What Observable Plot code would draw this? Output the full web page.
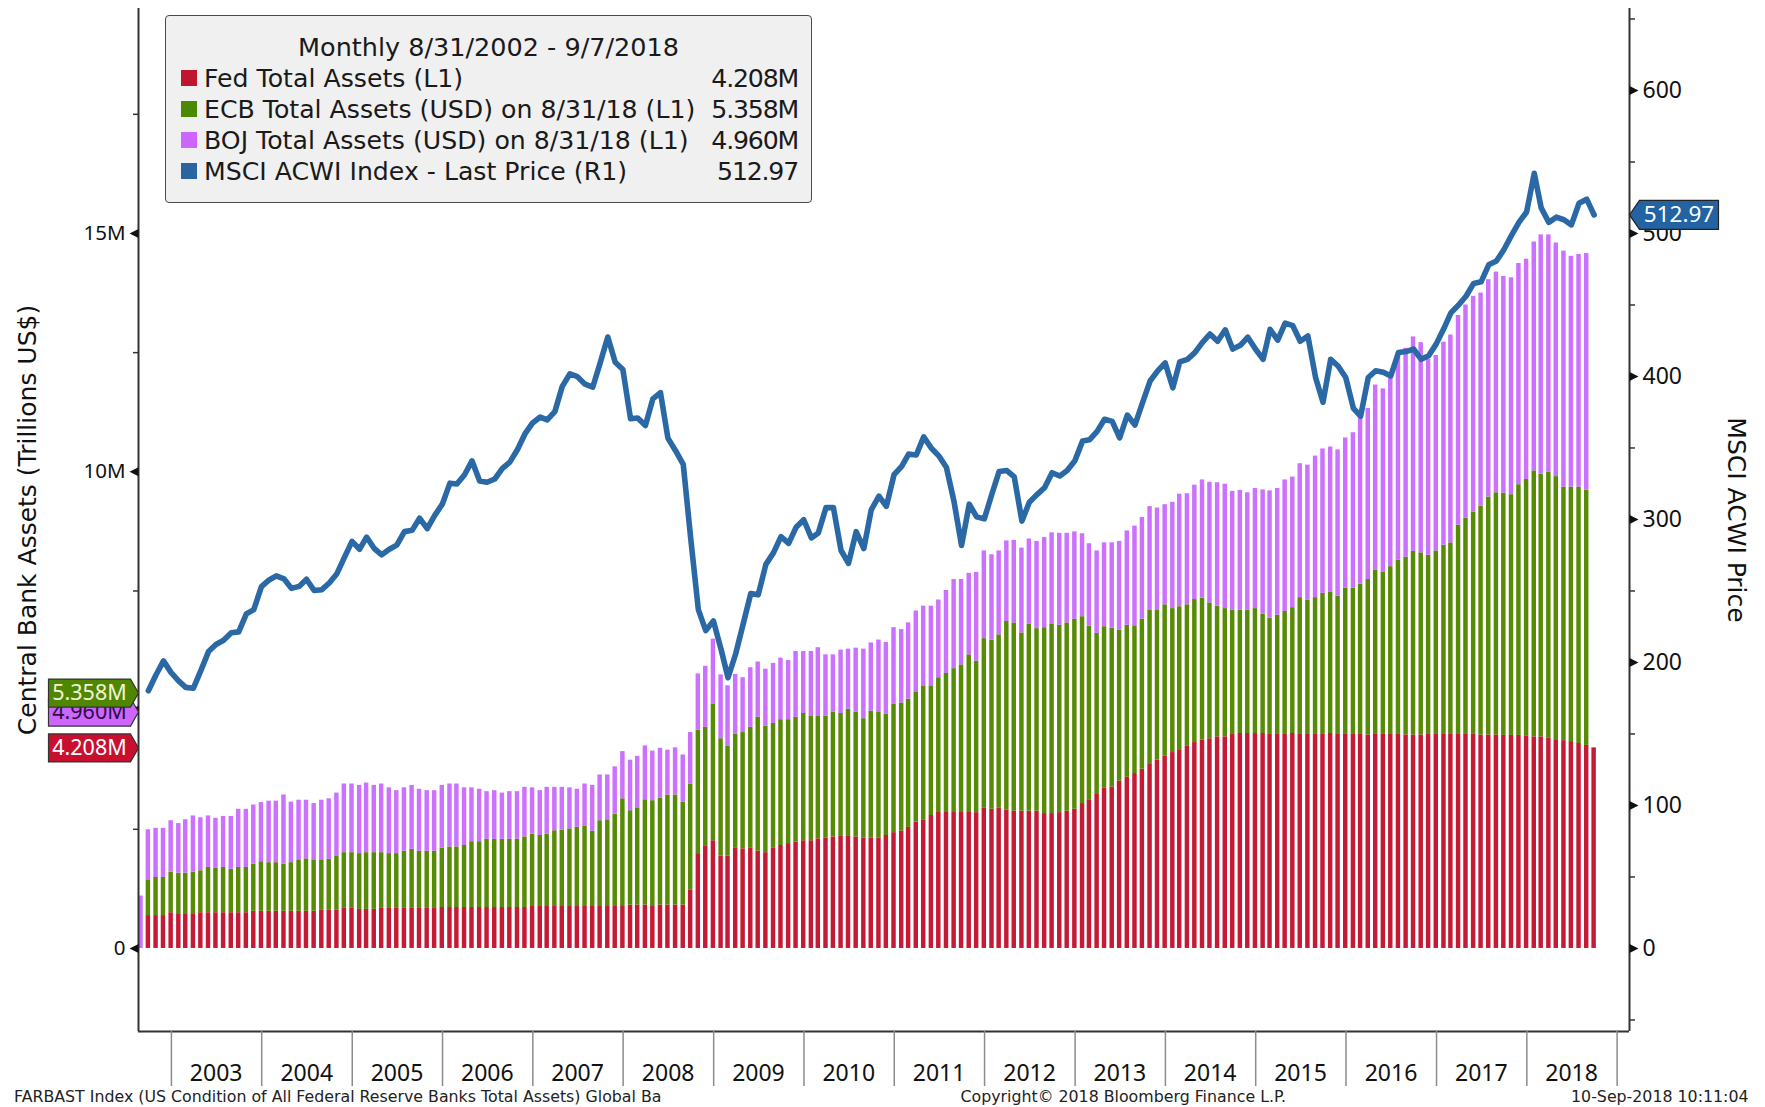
<!DOCTYPE html>
<html>
<head>
<meta charset="utf-8">
<script src="https://cdn.jsdelivr.net/npm/d3@7"></script>
<script src="https://cdn.jsdelivr.net/npm/@observablehq/plot@0.6"></script>
<style>
  html, body { margin: 0; padding: 0; background: #fff; overflow: hidden; }
  #chart { position: relative; width: 1765px; height: 1107px; overflow: hidden; }
  #legend { position: absolute; left: 165px; top: 15px; width: 647px; height: 188px; box-sizing: border-box;
    background: #f0f0f0; border: 1.5px solid #4a4a4a; border-radius: 4px;
    font-family: "DejaVu Sans", sans-serif; font-size: 25.2px; color: #1a1a1a; }
  #legend .ttl { position: absolute; left: 0; right: 0; top: 16px; text-align: center; height: 30px; line-height: 30px; white-space: nowrap; font-size: 25.5px; }
  #legend .row { position: absolute; left: 15px; right: 13px; height: 30px; line-height: 30px; white-space: nowrap; }
  #legend .sw { position: absolute; left: 0; top: 6px; width: 16px; height: 16px; }
  #legend .lbl { position: absolute; left: 23px; top: 0; }
  #legend .val { position: absolute; right: 0; top: 0; letter-spacing: -1.2px; }
</style>
</head>
<body>
<div id="chart"></div>
<script>
// ---------------- DATA (trillions of US$, shown as "M"; one value per month Aug-2002 .. Sep-2018) ----------------
const fed = [
  null, 0.69, 0.69, 0.69, 0.75,                                             // 2002 Aug-Dec
  0.73, 0.73, 0.73, 0.75, 0.75, 0.75, 0.75, 0.75, 0.75, 0.75, 0.78, 0.78,   // 2003
  0.78, 0.78, 0.78, 0.78, 0.78, 0.78, 0.78, 0.80, 0.80, 0.81, 0.84, 0.84,   // 2004
  0.82, 0.82, 0.82, 0.84, 0.84, 0.84, 0.84, 0.84, 0.84, 0.84, 0.84, 0.86,   // 2005
  0.86, 0.86, 0.86, 0.86, 0.86, 0.86, 0.86, 0.86, 0.86, 0.86, 0.86, 0.88,   // 2006
  0.88, 0.88, 0.88, 0.88, 0.88, 0.88, 0.88, 0.88, 0.88, 0.88, 0.88, 0.88,   // 2007
  0.91, 0.91, 0.91, 0.88, 0.91, 0.91, 0.91, 0.91, 1.22, 1.99, 2.14, 2.26,   // 2008
  1.94, 1.94, 2.10, 2.09, 2.10, 2.04, 2.01, 2.10, 2.16, 2.20, 2.23, 2.26,   // 2009
  2.26, 2.30, 2.32, 2.34, 2.35, 2.35, 2.34, 2.32, 2.32, 2.32, 2.37, 2.43,   // 2010
  2.46, 2.54, 2.65, 2.70, 2.79, 2.87, 2.87, 2.87, 2.87, 2.87, 2.85, 2.94,   // 2011
  2.92, 2.94, 2.90, 2.88, 2.88, 2.88, 2.88, 2.83, 2.83, 2.85, 2.88, 2.92,   // 2012
  3.04, 3.12, 3.23, 3.37, 3.39, 3.51, 3.59, 3.67, 3.76, 3.86, 3.95, 4.04,   // 2013
  4.11, 4.17, 4.24, 4.32, 4.37, 4.40, 4.44, 4.44, 4.49, 4.51, 4.51, 4.51,   // 2014
  4.51, 4.49, 4.49, 4.49, 4.51, 4.49, 4.49, 4.49, 4.49, 4.51, 4.49, 4.49,   // 2015
  4.49, 4.49, 4.48, 4.49, 4.49, 4.49, 4.49, 4.48, 4.48, 4.48, 4.49, 4.49,   // 2016
  4.49, 4.49, 4.49, 4.49, 4.49, 4.48, 4.48, 4.48, 4.47, 4.47, 4.47, 4.45,   // 2017
  4.44, 4.44, 4.42, 4.38, 4.36, 4.34, 4.30, 4.26, 4.208                     // 2018 Jan-Sep
];
const ecb = [
  null, 0.75, 0.80, 0.80, 0.85,
  0.85, 0.85, 0.87, 0.88, 0.95, 0.93, 0.95, 0.91, 0.95, 0.95, 0.99, 1.04,
  1.02, 1.02, 0.99, 1.02, 1.08, 1.10, 1.08, 1.06, 1.07, 1.12, 1.17, 1.17,
  1.17, 1.19, 1.19, 1.17, 1.15, 1.15, 1.20, 1.24, 1.20, 1.20, 1.20, 1.24,
  1.27, 1.27, 1.30, 1.38, 1.38, 1.43, 1.43, 1.43, 1.43, 1.43, 1.48, 1.52,
  1.49, 1.52, 1.59, 1.60, 1.63, 1.66, 1.68, 1.58, 1.80, 1.82, 1.94, 2.26,
  1.98, 2.04, 2.21, 2.22, 2.24, 2.31, 2.31, 2.16, 2.23, 2.59, 2.50, 2.87,
  2.46, 2.31, 2.39, 2.44, 2.54, 2.81, 2.65, 2.62, 2.64, 2.60, 2.62, 2.67,
  2.62, 2.58, 2.55, 2.62, 2.58, 2.67, 2.62, 2.50, 2.66, 2.63, 2.54, 2.70,
  2.69, 2.69, 2.72, 2.81, 2.72, 2.81, 2.90, 3.00, 3.08, 3.29, 3.18, 3.56,
  3.55, 3.64, 3.96, 3.95, 3.74, 3.92, 3.83, 3.90, 3.98, 3.93, 3.95, 3.99,
  3.92, 3.64, 3.38, 3.38, 3.33, 3.17, 3.19, 3.10, 3.15, 3.23, 3.14, 3.17,
  3.02, 3.00, 2.97, 3.00, 2.98, 2.85, 2.74, 2.69, 2.61, 2.59, 2.59, 2.62,
  2.50, 2.44, 2.50, 2.58, 2.64, 2.87, 2.82, 2.87, 2.96, 2.96, 2.90, 3.07,
  3.07, 3.15, 3.26, 3.45, 3.41, 3.52, 3.66, 3.73, 3.85, 3.82, 3.76, 3.85,
  3.97, 4.02, 4.39, 4.54, 4.66, 4.80, 4.99, 5.08, 5.08, 5.05, 5.26, 5.39,
  5.58, 5.51, 5.57, 5.52, 5.32, 5.34, 5.38, 5.358, null
];
const boj = [
  1.10, 1.05, 1.03, 1.03, 1.08,
  1.04, 1.12, 1.18, 1.11, 1.08, 1.05, 1.07, 1.11, 1.22, 1.22, 1.24, 1.24,
  1.29, 1.29, 1.45, 1.27, 1.25, 1.23, 1.18, 1.25, 1.27, 1.33, 1.44, 1.44,
  1.43, 1.46, 1.41, 1.44, 1.38, 1.32, 1.33, 1.34, 1.30, 1.27, 1.27, 1.32,
  1.32, 1.32, 1.21, 1.13, 1.10, 1.00, 1.02, 0.97, 1.00, 1.00, 1.04, 0.97,
  0.94, 0.98, 0.91, 0.90, 0.86, 0.80, 0.89, 0.96, 0.96, 0.94, 0.99, 0.99,
  1.06, 1.08, 1.13, 1.04, 1.05, 0.94, 0.99, 0.99, 1.08, 1.18, 1.28, 1.36,
  1.34, 1.26, 1.26, 1.15, 1.25, 1.16, 1.20, 1.26, 1.29, 1.24, 1.38, 1.30,
  1.35, 1.43, 1.29, 1.20, 1.33, 1.26, 1.34, 1.46, 1.43, 1.52, 1.51, 1.60,
  1.54, 1.60, 1.71, 1.67, 1.67, 1.63, 1.74, 1.87, 1.79, 1.71, 1.86, 1.84,
  1.79, 1.76, 1.69, 1.73, 1.78, 1.79, 1.83, 1.89, 1.91, 1.93, 1.88, 1.83,
  1.74, 1.73, 1.73, 1.76, 1.79, 1.86, 1.98, 2.09, 2.13, 2.18, 2.15, 2.10,
  2.23, 2.36, 2.33, 2.40, 2.48, 2.53, 2.59, 2.61, 2.49, 2.51, 2.46, 2.52,
  2.61, 2.67, 2.66, 2.76, 2.74, 2.81, 2.83, 2.97, 3.03, 3.05, 3.07, 3.15,
  3.26, 3.56, 3.59, 3.88, 3.84, 3.97, 4.29, 4.38, 4.50, 4.41, 4.11, 4.10,
  4.26, 4.36, 4.40, 4.47, 4.53, 4.47, 4.56, 4.63, 4.55, 4.55, 4.64, 4.62,
  4.80, 5.02, 4.98, 4.90, 4.95, 4.84, 4.88, 4.960, null
];
// MSCI ACWI index, last price (right axis)
const msci = [
  null, 180.2, 191.4, 201.1, 192.9,
  187.0, 182.6, 182.0, 194.3, 207.6, 212.6, 215.5, 220.8, 221.4, 234.0, 237.0, 253.0,
  257.7, 260.6, 258.5, 251.8, 253.2, 258.2, 250.3, 250.9, 255.6, 262.1, 273.3, 284.7,
  279.2, 287.7, 279.7, 275.3, 279.2, 282.1, 291.5, 292.4, 300.9, 293.6, 302.7, 310.7,
  325.4, 324.8, 331.3, 341.0, 326.9, 326.0, 328.3, 335.7, 340.1, 348.9, 359.8, 367.5,
  371.6, 369.6, 375.4, 393.1, 401.9, 399.9, 394.6, 392.5, 409.3, 427.6, 409.9, 404.9,
  370.4, 371.0, 365.7, 384.3, 388.7, 356.9, 348.1, 338.6, 287.1, 237.0, 222.3, 229.1,
  209.1, 189.3, 206.1, 226.7, 248.2, 247.3, 268.6, 276.8, 288.0, 283.3, 294.5, 299.8,
  287.1, 290.6, 308.3, 308.3, 278.3, 269.4, 291.5, 279.7, 306.8, 316.3, 309.2, 331.3,
  337.2, 345.7, 345.1, 357.8, 349.8, 344.5, 336.3, 312.1, 281.8, 310.7, 301.8, 300.4,
  318.0, 333.6, 334.2, 329.8, 298.9, 312.1, 317.4, 322.4, 332.7, 330.4, 334.2, 341.0,
  354.8, 355.7, 361.6, 370.1, 368.6, 357.1, 373.0, 366.1, 381.3, 396.8, 403.7, 409.5,
  392.1, 410.2, 412.0, 416.7, 423.9, 429.7, 424.6, 432.6, 419.2, 421.8, 427.5, 419.2,
  412.0, 433.0, 425.4, 437.3, 435.5, 424.6, 428.3, 399.3, 382.0, 412.0, 407.3, 399.3,
  377.7, 372.2, 399.3, 404.0, 403.0, 400.4, 416.7, 417.4, 419.2, 412.0, 414.5, 422.8,
  433.7, 444.5, 450.0, 456.1, 465.1, 466.2, 478.1, 480.7, 488.6, 498.7, 507.8, 515.0,
  542.1, 517.9, 507.8, 511.4, 509.6, 506.0, 521.1, 524.0, 512.97
];
const seriesNames = ["Fed", "ECB", "BOJ"];
const legendLabels = [
  "Fed Total Assets (L1)",
  "ECB Total Assets (USD) on 8/31/18 (L1)",
  "BOJ Total Assets (USD) on 8/31/18 (L1)",
  "MSCI ACWI Index - Last Price (R1)"
];
const legendTitle = "Monthly 8/31/2002 - 9/7/2018";
const leftTicks = [0, 5, 10, 15];
const leftMinor = [2.5, 7.5, 12.5, 17.5];
const rightTicks = [0, 100, 200, 300, 400, 500, 600];
const rightMinor = [-50, 50, 150, 250, 350, 450, 550, 650];
const yearLabels = d3.range(2003, 2019);
const leftTitle = "Central Bank Assets (Trillions US$)";
const rightTitle = "MSCI ACWI Price";
const footLeft = "FARBAST Index (US Condition of All Federal Reserve Banks Total Assets) Global Ba";
const footMid = "Copyright\u00A9 2018 Bloomberg Finance L.P.";
const footRight = "10-Sep-2018 10:11:04";

// ---------------- STYLE ----------------
const C = {fed: "#c41a35", ecb: "#578a05", boj: "#cc70ff", msci: "#2a69a5"};
const K = 500 / 15; // right-axis points per left-axis trillion (500 on the right = 15M on the left)

const n = 194;
if ([fed, ecb, boj, msci].some(a => a.length !== n)) throw new Error("length mismatch " + [fed, ecb, boj, msci].map(a => a.length));

const months = d3.utcMonth.range(new Date(Date.UTC(2002, 7, 1)), new Date(Date.UTC(2018, 9, 1)));
const dates = months.map(m => d3.utcDay.offset(d3.utcMonth.offset(m, 1), -1));
const bars = [];
dates.forEach((d, i) => {
  [fed, ecb, boj].forEach((arr, j) => {
    if (arr[i] != null) bars.push({x1: d3.utcDay.offset(d, -9), x2: d3.utcDay.offset(d, 9), series: seriesNames[j], value: arr[i]});
  });
});
const msciRows = dates.map((d, i) => ({date: d, v: msci[i]})).filter(d => d.v != null);

const X0 = new Date(Date.UTC(2002, 7, 21)), X1 = new Date(Date.UTC(2019, 1, 20));
const Y0 = -1.742, Y1 = 19.72;

const triLeft = {draw(ctx) { ctx.moveTo(0, -4.5); ctx.lineTo(-9, 0); ctx.lineTo(0, 4.5); ctx.closePath(); }};
const triRight = {draw(ctx) { ctx.moveTo(0, -4.5); ctx.lineTo(9, 0); ctx.lineTo(0, 4.5); ctx.closePath(); }};
const tagLeft = {draw(ctx) { ctx.moveTo(-90, -14); ctx.lineTo(-8, -14); ctx.lineTo(0, 0); ctx.lineTo(-8, 14); ctx.lineTo(-90, 14); ctx.closePath(); }};
const tagRight = {draw(ctx) { ctx.moveTo(0, 0); ctx.lineTo(10, -14.5); ctx.lineTo(89, -14.5); ctx.lineTo(89, 14.5); ctx.lineTo(10, 14.5); ctx.closePath(); }};

const fmtM = v => d3.format(".3f")(v) + "M";
const lastFed = fed[n - 1], lastEcb = ecb[n - 2], lastBoj = boj[n - 2], lastMsci = msci[n - 1];
const tags = [
  {value: lastFed, label: fmtM(lastFed), fill: "#c8102e", text: "#ffffff"},
  {value: lastBoj, label: fmtM(lastBoj), fill: "#cc66ff", text: "#2a0f45"},
  {value: lastEcb, label: fmtM(lastEcb), fill: "#4f8800", text: "#f2f2d6"}
];

const font = "'Noto Sans', sans-serif";
const dv = "'DejaVu Sans', sans-serif";

const chart = Plot.plot({
  width: 1765, height: 1107,
  marginLeft: 138, marginRight: 136, marginTop: 8, marginBottom: 76,
  x: {type: "utc", domain: [X0, X1]},
  y: {domain: [Y0, Y1]},
  color: {domain: seriesNames, range: [C.fed, C.ecb, C.boj]},
  style: {fontFamily: font, color: "#111", background: "#fff"},
  marks: [
    Plot.rectY(bars, {x1: "x1", x2: "x2", y: "value", fill: "series"}),
    Plot.line(msciRows, {x: "date", y: d => d.v / K, stroke: C.msci, strokeWidth: 5.6, strokeLinejoin: "round", strokeLinecap: "round"}),
    // frame lines
    Plot.ruleX([X0], {stroke: "#333", strokeWidth: 2}),
    Plot.ruleX([X1], {stroke: "#333", strokeWidth: 2}),
    Plot.ruleY([Y0], {stroke: "#333", strokeWidth: 2}),
    // left axis
    Plot.axisY({anchor: "left", ticks: leftTicks, tickSize: 0, tickPadding: 13, tickFormat: d => d === 0 ? "0" : d + "M", fontSize: 20.5, label: null}),
    Plot.axisY({anchor: "left", ticks: leftMinor, tickSize: 5, tickFormat: () => "", label: null, stroke: "#333", strokeWidth: 1.5}),
    Plot.dot(leftTicks, {y: d => d, frameAnchor: "left", symbol: triLeft, r: 4, fill: "#111", stroke: null}),
    // right axis
    Plot.axisY({anchor: "right", ticks: rightTicks.map(v => v / K), tickSize: 0, tickPadding: 13, tickFormat: d => String(Math.round(d * K)), fontSize: 23, label: null}),
    Plot.axisY({anchor: "right", ticks: rightMinor.map(v => v / K), tickSize: 5, tickFormat: () => "", label: null, stroke: "#333", strokeWidth: 1.5}),
    Plot.dot(rightTicks, {y: d => d / K, frameAnchor: "right", symbol: triRight, r: 4, fill: "#111", stroke: null}),
    // bottom axis: year separators + centered year labels
    Plot.axisX({ticks: d3.range(2003, 2020).map(y => new Date(Date.UTC(y, 0, 1))), tickSize: 55, tickFormat: () => "", label: null, stroke: "#8c8c8c", strokeWidth: 1.5}),
    Plot.axisX({ticks: yearLabels.map(y => new Date(Date.UTC(y, 6, 1))), tickSize: 0, tickPadding: 33, tickFormat: d3.utcFormat("%Y"), fontSize: 23, label: null}),
    // axis titles
    Plot.text([leftTitle], {frameAnchor: "left", dx: -111, rotate: -90, textAnchor: "middle", text: d => d, fontFamily: dv, fontSize: 25, fill: "#111"}),
    Plot.text([rightTitle], {frameAnchor: "right", dx: 106, rotate: 90, textAnchor: "middle", text: d => d, fontFamily: dv, fontSize: 25, fill: "#111"}),
    // value tags
    ...tags.flatMap(t => [
      Plot.dot([t], {y: "value", frameAnchor: "left", symbol: tagLeft, r: 5, fill: t.fill, stroke: "#333", strokeWidth: 1.2}),
      Plot.text([t], {y: "value", frameAnchor: "left", dx: -49, textAnchor: "middle", text: "label", fill: t.text, fontSize: 21.5})
    ]),
    Plot.dot([lastMsci], {y: d => d / K, frameAnchor: "right", symbol: tagRight, r: 5, fill: "#2463a3", stroke: "#222", strokeWidth: 1.2}),
    Plot.text([lastMsci], {y: d => d / K, frameAnchor: "right", dx: 49.5, textAnchor: "middle", text: d => d3.format(".2f")(d), fill: "#fff", fontSize: 22.5}),
    // footers
    Plot.text([footLeft], {frameAnchor: "bottom-left", dx: -124.5, dy: 70, textAnchor: "start", text: d => d, fontFamily: dv, fontSize: 15.8, fill: "#222"}),
    Plot.text([footMid], {frameAnchor: "bottom", dx: 76.5, dy: 70, textAnchor: "start", text: d => d, fontFamily: dv, fontSize: 15.8, fill: "#222"}),
    Plot.text([footRight], {frameAnchor: "bottom-right", dx: 119, dy: 70, textAnchor: "end", text: d => d, fontFamily: dv, fontSize: 15.8, fill: "#222"})
  ]
});

const root = document.getElementById("chart");
root.appendChild(chart);

// legend box (drawn over the plot area, as in the original)
const legend = document.createElement("div");
legend.id = "legend";
const ttl = document.createElement("div");
ttl.className = "ttl";
ttl.textContent = legendTitle;
legend.appendChild(ttl);
const legendColors = ["#c0152f", "#4b8a00", "#cc66ff", "#2a64a0"];
const legendValues = [fmtM(lastFed), fmtM(lastEcb), fmtM(lastBoj), d3.format(".2f")(lastMsci)];
const rowTops = [47.5, 78.5, 109.5, 141];
legendLabels.forEach((lab, i) => {
  const row = document.createElement("div");
  row.className = "row";
  row.style.top = rowTops[i] + "px";
  const sw = document.createElement("span"); sw.className = "sw"; sw.style.background = legendColors[i];
  const l = document.createElement("span"); l.className = "lbl"; l.textContent = lab;
  const v = document.createElement("span"); v.className = "val"; v.textContent = legendValues[i];
  row.append(sw, l, v);
  legend.appendChild(row);
});
root.appendChild(legend);
</script>
</body>
</html>
